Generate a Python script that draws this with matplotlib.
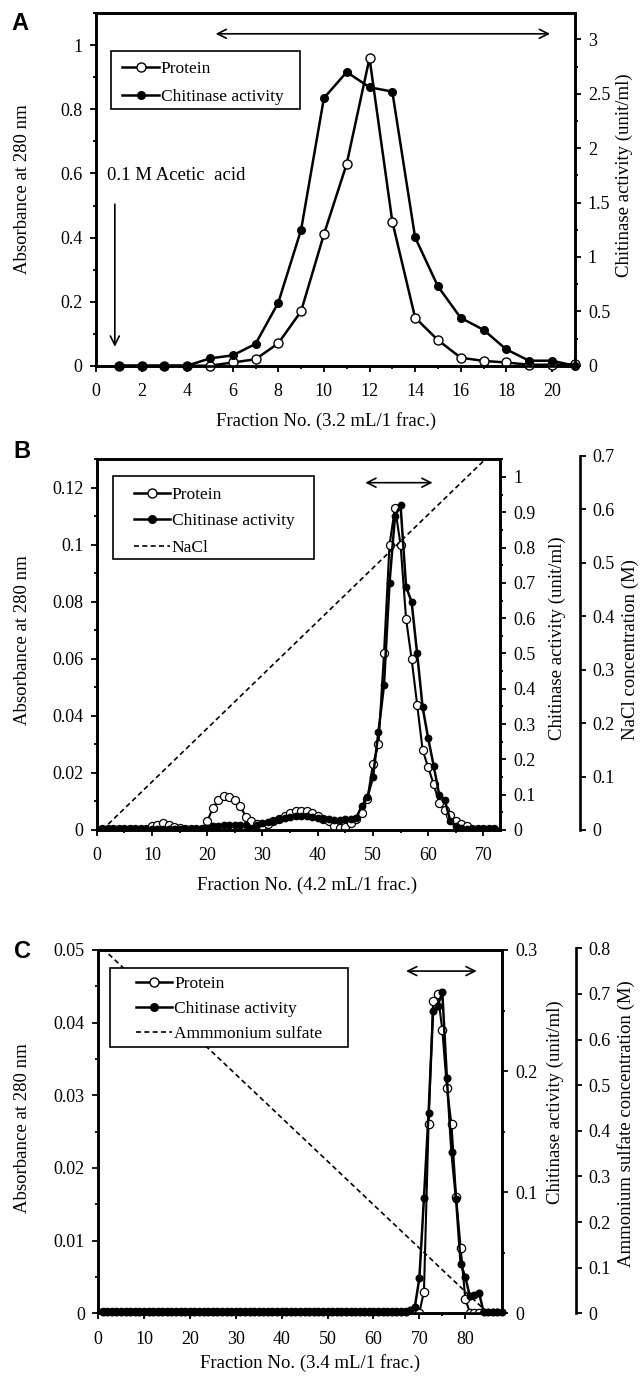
import matplotlib
matplotlib.use('Agg')
import matplotlib.pyplot as plt
from matplotlib.ticker import MultipleLocator, FuncFormatter, FixedLocator
from matplotlib.lines import Line2D
from matplotlib.patches import Rectangle

plt.rcParams['font.family'] = ['Liberation Serif', 'DejaVu Serif']

# ---------------- data ----------------
# Panel A: gel filtration, 3.2 mL per fraction
frac_a = list(range(1, 22))
protein_a = [0.0, 0.0, 0.0, 0.0, 0.0, 0.01, 0.02, 0.07, 0.17, 0.41, 0.63,
             0.96, 0.45, 0.15, 0.08, 0.025, 0.015, 0.01, 0.003, 0.003, 0.005]
chitinase_a = [0.0, 0.0, 0.0, 0.0, 0.067, 0.095, 0.20, 0.58, 1.25, 2.46, 2.70,
               2.56, 2.52, 1.18, 0.73, 0.44, 0.33, 0.15, 0.046, 0.046, 0.0]

# Panel B: ion exchange, 4.2 mL per fraction
frac_b = list(range(1, 73))
protein_b = [0.0003, 0.0003, 0.0003, 0.0003, 0.0003, 0.0003, 0.0003, 0.0003, 0.0003, 0.0015,
             0.0018, 0.0025, 0.0018, 0.0012, 0.0006, 0.0003, 0.0003, 0.0003, 0.0003, 0.003,
             0.0076, 0.0105, 0.012, 0.0115, 0.0105, 0.0085, 0.0045, 0.003, 0.002, 0.0015,
             0.002, 0.003, 0.004, 0.005, 0.006, 0.0065, 0.0068, 0.0065, 0.006, 0.005,
             0.004, 0.003, 0.0015, 0.0008, 0.001, 0.0023, 0.004, 0.006, 0.011, 0.023,
             0.030, 0.062, 0.100, 0.113, 0.100, 0.074, 0.060, 0.044, 0.028, 0.022,
             0.016, 0.0096, 0.007, 0.0053, 0.003, 0.002, 0.0015, 0.0003, 0.0003, 0.0003,
             0.0003, 0.0003]
chitinase_b = [0.003, 0.003, 0.003, 0.003, 0.003, 0.003, 0.003, 0.003, 0.003, 0.003,
               0.003, 0.003, 0.003, 0.003, 0.003, 0.003, 0.003, 0.003, 0.003, 0.006,
               0.010, 0.012, 0.013, 0.014, 0.014, 0.015, 0.015, 0.004, 0.015, 0.020,
               0.022, 0.025, 0.030, 0.034, 0.038, 0.040, 0.041, 0.040, 0.038, 0.035,
               0.032, 0.030, 0.028, 0.028, 0.030, 0.032, 0.035, 0.069, 0.0925, 0.149,
               0.278, 0.41, 0.70, 0.89, 0.92, 0.689, 0.646, 0.50, 0.347, 0.26,
               0.181, 0.10, 0.085, 0.026, 0.010, 0.005, 0.003, 0.003, 0.003, 0.003,
               0.003, 0.003]
nacl_frac = [1, 71]
nacl_conc = [0.0, 0.7]

# Panel C: hydrophobic interaction, 3.4 mL per fraction
frac_c = list(range(1, 89))
protein_c = [0.0002, 0.0002, 0.0002, 0.0002, 0.0002, 0.0002, 0.0002, 0.0002, 0.0002, 0.0002,
             0.0002, 0.0002, 0.0002, 0.0002, 0.0002, 0.0002, 0.0002, 0.0002, 0.0002, 0.0002,
             0.0002, 0.0002, 0.0002, 0.0002, 0.0002, 0.0002, 0.0002, 0.0002, 0.0002, 0.0002,
             0.0002, 0.0002, 0.0002, 0.0002, 0.0002, 0.0002, 0.0002, 0.0002, 0.0002, 0.0002,
             0.0002, 0.0002, 0.0002, 0.0002, 0.0002, 0.0002, 0.0002, 0.0002, 0.0002, 0.0002,
             0.0002, 0.0002, 0.0002, 0.0002, 0.0002, 0.0002, 0.0002, 0.0002, 0.0002, 0.0002,
             0.0002, 0.0002, 0.0002, 0.0002, 0.0002, 0.0002, 0.0002, 0.0002, 0.0002, 0.0001,
             0.003, 0.026, 0.043, 0.044, 0.039, 0.031, 0.026, 0.016, 0.009, 0.002,
             0.0001, 0.0001, 0.0001, 0.0001, 0.0001, 0.0001, 0.0001, 0.0001]
chitinase_c = [0.001, 0.001, 0.001, 0.001, 0.001, 0.001, 0.001, 0.001, 0.001, 0.001,
               0.001, 0.001, 0.001, 0.001, 0.001, 0.001, 0.001, 0.001, 0.001, 0.001,
               0.001, 0.001, 0.001, 0.001, 0.001, 0.001, 0.001, 0.001, 0.001, 0.001,
               0.001, 0.001, 0.001, 0.001, 0.001, 0.001, 0.001, 0.001, 0.001, 0.001,
               0.001, 0.001, 0.001, 0.001, 0.001, 0.001, 0.001, 0.001, 0.001, 0.001,
               0.001, 0.001, 0.001, 0.001, 0.001, 0.001, 0.001, 0.001, 0.001, 0.001,
               0.001, 0.001, 0.001, 0.001, 0.001, 0.001, 0.001, 0.003, 0.005, 0.029,
               0.095, 0.165, 0.250, 0.254, 0.265, 0.194, 0.133, 0.094, 0.041, 0.030,
               0.014, 0.015, 0.017, 0.001, 0.001, 0.001, 0.001, 0.001]
amm_frac = [1, 85]
amm_conc = [0.8, 0.0]

# ---------------- layout helpers ----------------
W, H = 641, 1383
fig = plt.figure(figsize=(W / 100, H / 100), dpi=100)

def px_axes(l, r, t, b):
    return fig.add_axes([l / W, 1 - b / H, (r - l) / W, (b - t) / H])

fmt = FuncFormatter(lambda v, p: '%g' % round(v, 6))
TICK_FS = 13
LABEL_FS = 13.5
LEG_FS = 12.5

def style(ax):
    for s in ax.spines.values():
        s.set_linewidth(1.9)
    ax.tick_params(which='both', direction='out', width=1.3, labelsize=TICK_FS, pad=5)
    ax.tick_params(which='major', length=4.5)
    ax.tick_params(which='minor', length=2.5)
    ax.tick_params(axis='x', which='both', pad=8)
    ax.yaxis.set_major_formatter(fmt)
    ax.xaxis.set_major_formatter(fmt)

def third_axis(main, right_px, top_px, bottom_px, l, r, ylim, label, label_x, label_y):
    a3 = px_axes(l, r, top_px, bottom_px)
    a3.set_xlim(main.get_xlim())
    a3.set_ylim(*ylim)
    a3.patch.set_visible(False)
    for k in ['left', 'top', 'bottom']:
        a3.spines[k].set_visible(False)
    a3.spines['right'].set_position(('axes', (right_px - l) / (r - l)))
    a3.spines['right'].set_linewidth(1.9)
    a3.xaxis.set_visible(False)
    a3.yaxis.tick_right()
    a3.yaxis.set_major_locator(MultipleLocator(0.1))
    a3.yaxis.set_major_formatter(fmt)
    a3.tick_params(axis='y', direction='out', width=1.3, length=4.5, labelsize=TICK_FS, pad=5)
    a3.set_ylabel(label, fontsize=LABEL_FS, rotation=90)
    a3.yaxis.set_label_position('right')
    a3.yaxis.set_label_coords(label_x, label_y)
    a3.yaxis.label.set_va('center')
    a3.yaxis.label.set_ha('center')
    return a3

def handles(third=None):
    h = [Line2D([], [], color='k', lw=1.8, marker='o', mfc='white', mec='k', mew=1.0, ms=6.5),
         Line2D([], [], color='k', lw=1.8, marker='o', mfc='k', mec='k', ms=5.5)]
    if third:
        h.append(Line2D([], [], color='k', lw=1.2, ls=(0, (3, 2))))
    return h

def legend(labels, box, content_x, first_row_y, spacing, third=False):
    l, r, t, b = box
    rect = Rectangle((l / W, 1 - b / H), (r - l) / W, (b - t) / H, transform=fig.transFigure,
                     facecolor='white', edgecolor='k', linewidth=1.2, zorder=8)
    fig.add_artist(rect)
    lg = fig.legend(handles(third), labels, loc='upper left',
                    bbox_to_anchor=(content_x / W, 1 - (first_row_y - 10) / H),
                    bbox_transform=fig.transFigure, borderaxespad=0, borderpad=0,
                    fontsize=LEG_FS, frameon=False, handlelength=2.1, handletextpad=0.1,
                    labelspacing=spacing, numpoints=1)
    lg.set_zorder(9)
    return lg

def set_labels(ax, ax2, xl, xl_xy, yl, yl_xy, y2l, y2l_xy):
    ax.set_xlabel(xl, fontsize=LABEL_FS)
    ax.xaxis.set_label_coords(*xl_xy)
    ax.xaxis.label.set_va('center')
    ax.set_ylabel(yl, fontsize=LABEL_FS)
    ax.yaxis.set_label_coords(*yl_xy)
    ax.yaxis.label.set_va('center')
    ax2.set_ylabel(y2l, fontsize=LABEL_FS, rotation=90)
    ax2.yaxis.set_label_coords(*y2l_xy)
    ax2.yaxis.label.set_va('center')
    ax2.yaxis.label.set_ha('center')

def darrow(ax, x0, x1, y):
    ax.annotate('', xy=(x1, y), xytext=(x0, y),
                arrowprops=dict(arrowstyle='<->', lw=1.2, color='k', shrinkA=0, shrinkB=0,
                                mutation_scale=16), annotation_clip=False)

panel_kw = dict(fontfamily='Liberation Sans', fontweight='bold', fontsize=17,
                ha='center', va='center')

# ---------------- Panel A ----------------
lA, rA, tA, bA = 95.9, 574.7, 13.3, 365.7
axA = px_axes(lA, rA, tA, bA)
axA2 = axA.twinx()
style(axA); style(axA2)
axA.set_xlim(0, 21); axA.set_ylim(0, 1.1); axA2.set_ylim(0, 3.24)
axA.xaxis.set_major_locator(MultipleLocator(2)); axA.xaxis.set_minor_locator(MultipleLocator(1))
axA.yaxis.set_major_locator(FixedLocator([0, 0.2, 0.4, 0.6, 0.8, 1.0]))
axA.yaxis.set_minor_locator(MultipleLocator(0.1))
axA2.yaxis.set_major_locator(MultipleLocator(0.5)); axA2.yaxis.set_minor_locator(MultipleLocator(0.25))
axA.plot(frac_a, protein_a, color='k', lw=1.8, marker='o', mfc='white', mec='k', mew=1.0, ms=6.5,
         clip_on=False, zorder=3)
axA2.plot(frac_a, chitinase_a, color='k', lw=1.8, marker='o', mfc='k', mec='k', ms=5.5,
          clip_on=False, zorder=3)
set_labels(axA, axA2, 'Fraction No. (3.2 mL/1 frac.)', (0.4816, -0.157),
           'Absorbance at 280 nm', (-0.1535, 0.5),
           'Chitinase activity (unit/ml)', (1.104, 0.54))
legend(['Protein', 'Chitinase activity'], (111, 300, 51, 109.3), 122.4, 70.5, 0.72)
darrow(axA, 5.25, 19.92, 1.036)
axA.text(0.47, 0.594, '0.1 M Acetic  acid', fontsize=13.5, ha='left', va='center')
axA.annotate('', xy=(0.83, 0.059), xytext=(0.83, 0.504),
             arrowprops=dict(arrowstyle='->', lw=1.2, color='k', shrinkA=0, shrinkB=0,
                             mutation_scale=16))
fig.text(20.4 / W, 1 - 23 / H, 'A', **panel_kw)

# ---------------- Panel B ----------------
lB, rB, tB, bB = 96.7, 500.0, 459.3, 830.0
axB = px_axes(lB, rB, tB, bB)
axB2 = axB.twinx()
style(axB); style(axB2)
axB.set_xlim(0, 73); axB.set_ylim(0, 0.13); axB2.set_ylim(0, 1.05)
axB.xaxis.set_major_locator(MultipleLocator(10)); axB.xaxis.set_minor_locator(MultipleLocator(5))
axB.yaxis.set_major_locator(MultipleLocator(0.02)); axB.yaxis.set_minor_locator(MultipleLocator(0.01))
axB2.yaxis.set_major_locator(MultipleLocator(0.1)); axB2.yaxis.set_minor_locator(MultipleLocator(0.05))
axB.plot(frac_b, protein_b, color='k', lw=1.5, marker='o', mfc='white', mec='k', mew=0.9, ms=5.8,
         zorder=3)
axB2.plot(frac_b, chitinase_b, color='k', lw=1.8, marker='o', mfc='k', mec='k', ms=4.6, zorder=3)
set_labels(axB, axB2, 'Fraction No. (4.2 mL/1 frac.)', (0.521, -0.148),
           'Absorbance at 280 nm', (-0.184, 0.5125),
           'Chitinase activity (unit/ml)', (1.1416, 0.518))
axB3 = third_axis(axB, 579.6, 455.7, 830.0, lB, rB, (0, 0.7), 'NaCl concentration (M)',
                  (630.6 - lB) / (rB - lB), 0.4817)
ln, = axB3.plot(nacl_frac, nacl_conc, color='k', lw=1.2, ls=(0, (3, 2)))
ln.set_clip_box(axB.bbox)
legend(['Protein', 'Chitinase activity', 'NaCl'], (113, 314, 476, 559.3), 133.5, 497, 0.58,
       third=True)
darrow(axB, 48.6, 60.8, 0.1218)
fig.text(22.4 / W, 1 - 451.7 / H, 'B', **panel_kw)

# ---------------- Panel C ----------------
lC, rC, tC, bC = 98.0, 502.0, 950.0, 1313.3
axC = px_axes(lC, rC, tC, bC)
axC2 = axC.twinx()
style(axC); style(axC2)
axC.set_xlim(0, 88); axC.set_ylim(0, 0.05); axC2.set_ylim(0, 0.3)
axC.xaxis.set_major_locator(MultipleLocator(10)); axC.xaxis.set_minor_locator(MultipleLocator(5))
axC.yaxis.set_major_locator(MultipleLocator(0.01)); axC.yaxis.set_minor_locator(MultipleLocator(0.005))
axC2.yaxis.set_major_locator(MultipleLocator(0.1)); axC2.yaxis.set_minor_locator(MultipleLocator(0.05))
axC.plot(frac_c, protein_c, color='k', lw=1.5, marker='o', mfc='white', mec='k', mew=0.9, ms=6.0,
         zorder=3)
axC2.plot(frac_c, chitinase_c, color='k', lw=1.8, marker='o', mfc='k', mec='k', ms=4.8,
          zorder=3, clip_on=False)
set_labels(axC, axC2, 'Fraction No. (3.4 mL/1 frac.)', (0.525, -0.1376),
           'Absorbance at 280 nm', (-0.187, 0.511),
           'Chitinase activity (unit/ml)', (1.1314, 0.58))
axC3 = third_axis(axC, 575.5, 948.3, 1313.3, lC, rC, (0, 0.8), 'Ammonium sulfate concentration (M)',
                  (626.5 - lC) / (rC - lC), 0.52)
ln, = axC3.plot(amm_frac, amm_conc, color='k', lw=1.2, ls=(0, (3, 2)))
ln.set_clip_box(axC.bbox)
legend(['Protein', 'Chitinase activity', 'Ammmonium sulfate'], (110.2, 347.8, 968.3, 1046.7),
       136, 986, 0.5, third=True)
darrow(axC, 67.1, 82.5, 0.0471)
fig.text(22.4 / W, 1 - 951.7 / H, 'C', **panel_kw)

fig.savefig('out.png', dpi=100, facecolor='white')
